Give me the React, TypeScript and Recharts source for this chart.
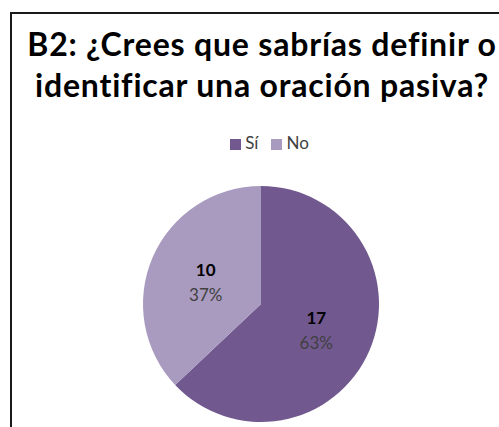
import { PieChart, Pie, Cell, Legend } from 'recharts';

const categories = ['Sí', 'No'];
const counts = [17, 10];
const colors = ['#71588F', '#A99BBF'];

const data = categories.map((name, i) => ({ name, value: counts[i] }));
const total = counts.reduce((a, b) => a + b, 0);

const RAD = Math.PI / 180;
const FONT = "Lato, 'Open Sans', sans-serif";

const renderLabel = (props: any) => {
  const { cx, cy, midAngle, outerRadius, value } = props;
  const r = outerRadius * 0.51;
  const x = cx + r * Math.cos(-midAngle * RAD);
  const y = cy + r * Math.sin(-midAngle * RAD);
  const pct = Math.round((value / total) * 100) + '%';
  return (
    <text x={x} y={y} textAnchor="middle" fontFamily={FONT} fontSize={17}>
      <tspan x={x} dy={-4} fontWeight="bold" fill="#000">{value}</tspan>
      <tspan x={x} dy={25} fill="#404040">{pct}</tspan>
    </text>
  );
};

export default function App() {
  return (
    <div style={{ position: 'fixed', left: 0, top: 0, width: 499, height: 427, overflow: 'hidden', background: '#fff' }}>
      <div style={{ position: 'absolute', left: 10, top: 12, width: 540, height: 440, border: '2px solid #1a1a1a', boxSizing: 'border-box' }} />
      <div
        style={{
          position: 'absolute', left: 0, top: 23, width: 524, textAlign: 'center', whiteSpace: 'nowrap',
          fontFamily: FONT, fontWeight: 'bold', fontSize: 32, letterSpacing: 0.8, lineHeight: '41px', color: '#000',
        }}
      >
        B2: ¿Crees que sabrías definir o<br />identificar una oración pasiva?
      </div>
      <div style={{ position: 'absolute', left: 0, top: 0 }}>
        <PieChart width={524} height={427} margin={{ top: 0, right: 0, bottom: 0, left: 0 }}>
          <Legend
            verticalAlign="bottom"
            align="center"
            iconType="square"
            iconSize={11}
            itemSorter={null as any}
            wrapperStyle={{ top: 133, bottom: 'auto', paddingLeft: 14, fontFamily: FONT, fontSize: 17, lineHeight: '20px' }}
            formatter={(v: string) => <span style={{ color: '#404040', marginRight: 3 }}>{v}</span>}
          />
          <Pie
            data={data}
            dataKey="value"
            nameKey="name"
            cx={261}
            cy={304}
            outerRadius={118}
            startAngle={90}
            endAngle={-270}
            stroke="none"
            label={renderLabel}
            labelLine={false}
            isAnimationActive={false}
          >
            {data.map((d, i) => (
              <Cell key={d.name} fill={colors[i]} />
            ))}
          </Pie>
        </PieChart>
      </div>
    </div>
  );
}
